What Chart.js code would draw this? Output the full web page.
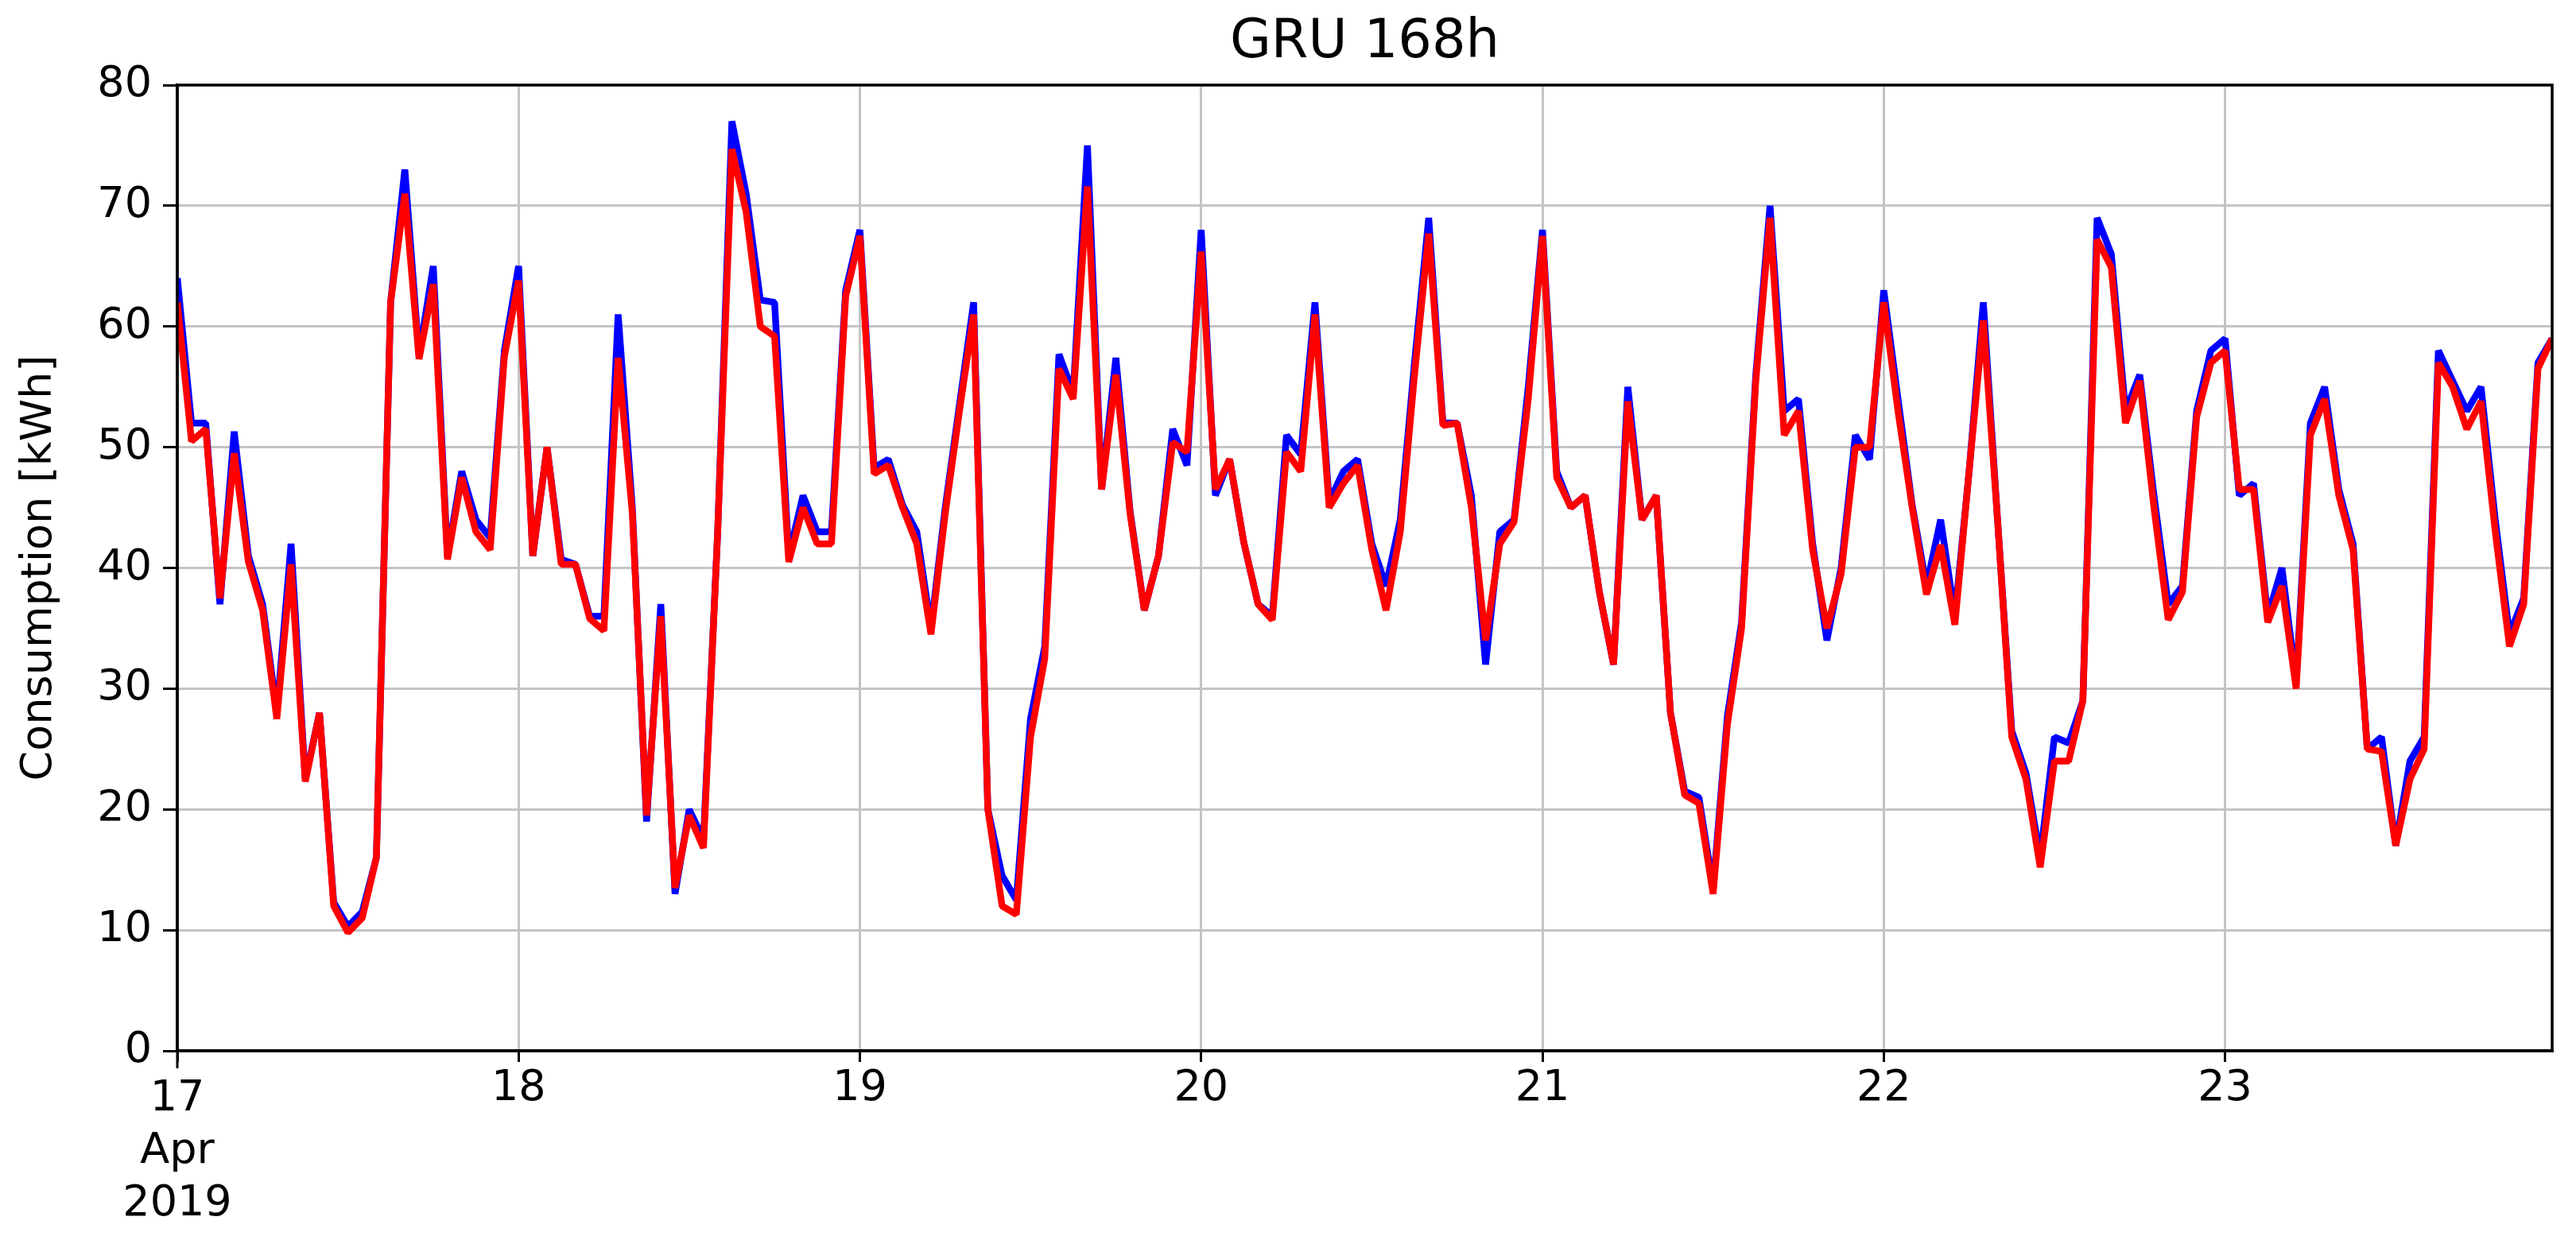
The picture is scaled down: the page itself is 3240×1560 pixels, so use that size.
<!DOCTYPE html>
<html>
<head>
<meta charset="utf-8">
<title>GRU 168h</title>
<script src="https://cdn.jsdelivr.net/npm/chart.js@4.4.1/dist/chart.umd.min.js"></script>
<style>
  html, body { margin: 0; padding: 0; background: #fff; }
  #chart { display: block; }
</style>
</head>
<body>
<canvas id="chart" width="3240" height="1560"></canvas>
<script>
// Hourly consumption [kWh], 17 Apr 2019 00:00 -> 23 Apr 2019 23:00 (one row per day)
const actual = [
  64, 52, 52, 37, 51.3, 41, 37, 28, 42, 22.5, 28, 12.3, 10.3, 11.5, 16, 62, 73, 57.6, 65, 41, 48, 44, 42.5, 58,
  65, 41, 50, 40.7, 40.3, 36, 36, 61, 45, 19, 37, 13, 20, 17.5, 43, 77, 71, 62.2, 62, 41, 46, 43, 43, 63,
  68, 48.3, 49, 45.2, 43, 35, 45, 53.5, 62, 20, 14.5, 12.5, 27.5, 33.5, 57.7, 54.5, 75, 46.5, 57.4, 44.7, 36.5, 41, 51.5, 48.5,
  68, 46, 49, 42.1, 37, 36, 51, 49.4, 62, 45.5, 48, 49, 42, 38.5, 44, 57, 69, 52, 52, 46, 32, 43, 44, 55,
  68, 48, 45, 46, 38, 32, 55, 44, 46, 28, 21.5, 21, 13.5, 27.7, 35.5, 56, 70, 53, 54, 42, 34, 40, 51, 49,
  63, 54, 45.2, 38.5, 44, 36, 48, 62, 44, 26.5, 23, 16, 26, 25.5, 29, 69, 66, 53, 56, 46, 37, 38.5, 53, 58,
  59, 46, 47, 36, 40, 30.5, 52, 55, 46.5, 42, 25, 26, 17, 24, 26, 58, 55.5, 53, 55, 44, 34.5, 37.5, 57, 59
];
const predicted = [
  62, 50.5, 51.5, 37.5, 49.5, 40.5, 36.5, 27.5, 40.3, 22.3, 28, 12, 9.8, 11, 16, 62, 71, 57.3, 63.5, 40.7, 47.5, 43, 41.5, 57.5,
  63.8, 41, 50, 40.3, 40.3, 35.8, 34.8, 57.4, 44.5, 19.5, 36, 13.5, 19.5, 16.8, 43, 74.7, 69.5, 60, 59.2, 40.5, 45, 42, 42, 62.5,
  67.5, 47.8, 48.5, 45, 42, 34.5, 44.5, 53, 61, 20, 12, 11.3, 26, 32.5, 56.5, 54, 71.6, 46.5, 56, 44.5, 36.5, 41, 50.4, 49.6,
  66.2, 46.5, 49, 42.1, 37, 35.7, 49.6, 48, 61, 45, 47, 48.5, 41.5, 36.5, 43, 56, 67.7, 51.8, 52, 45, 34, 42, 43.8, 54,
  67.5, 47.5, 45, 46, 38, 32, 53.8, 44, 46, 28, 21.2, 20.5, 13, 27, 35, 55.5, 69, 51, 53, 41.5, 35, 39.5, 50, 50,
  62, 53, 45, 37.8, 41.9, 35.3, 48, 60.5, 44, 26, 22.5, 15.2, 24, 24, 29, 67.2, 64.9, 52, 55.5, 45, 35.7, 38, 52.5, 57,
  58, 46.5, 46.5, 35.5, 38.5, 30, 51, 54, 46, 41.5, 25, 24.8, 17, 22.5, 25, 57, 55, 51.5, 53.8, 43, 33.5, 37, 56.5, 59
];

// x tick labels, one per day (the first one is the major tick with month and year)
const dayLabels = [['17', 'Apr', '2019'], '18', '19', '20', '21', '22', '23'];
const hoursPerDay = 24;

// y axis
const yMin = 0;
const yMax = 80;
const yStep = 10;

const FONT = "'DejaVu Sans', 'Liberation Sans', sans-serif";

const toPoints = (series) => series.map((v, i) => ({ x: i, y: v }));

// black box round the plot area (drawn over the lines, like the spines)
// plus the longer major tick under the first day
const frame = {
  id: 'frame',
  afterDatasetsDraw(chart) {
    const { ctx, chartArea: a, scales } = chart;
    ctx.save();
    ctx.strokeStyle = '#000';
    ctx.lineWidth = 3.5;
    ctx.strokeRect(a.left, a.top, a.right - a.left, a.bottom - a.top);
    const x0 = scales.x.getPixelForValue(0);
    ctx.lineWidth = 3;
    ctx.beginPath();
    ctx.moveTo(x0, a.bottom);
    ctx.lineTo(x0, a.bottom + 22);
    ctx.stroke();
    ctx.restore();
  }
};

new Chart(document.getElementById('chart'), {
  type: 'line',
  data: {
    datasets: [
      {
        label: 'actual',
        data: toPoints(actual),
        borderColor: '#0000ff',
        borderWidth: 8.5,
        borderJoinStyle: 'bevel',
        pointRadius: 0,
        tension: 0,
        order: 2
      },
      {
        label: 'GRU',
        data: toPoints(predicted),
        borderColor: '#ff0000',
        borderWidth: 8.5,
        borderJoinStyle: 'bevel',
        pointRadius: 0,
        tension: 0,
        order: 1
      }
    ]
  },
  options: {
    responsive: false,
    animation: false,
    devicePixelRatio: 1,
    layout: { padding: { left: 0, right: 30, top: 0, bottom: 0 } },
    plugins: {
      legend: { display: false },
      tooltip: { enabled: false },
      title: {
        display: true,
        text: 'GRU 168h',
        color: '#000',
        fullSize: false,
        font: { family: FONT, size: 67, weight: 'normal', lineHeight: 1.2 },
        padding: { top: 14, bottom: 12.6 }
      }
    },
    scales: {
      x: {
        type: 'linear',
        min: 0,
        max: actual.length - 1,
        afterBuildTicks: (scale) => {
          scale.ticks = dayLabels.map((label, i) => ({ value: i * hoursPerDay }));
        },
        afterFit: (scale) => { scale.height = 238; },
        ticks: {
          color: '#000',
          maxRotation: 0,
          autoSkip: false,
          padding: 14,
          // the major tick label sits lower than the minor ones
          font: (c) => ({ family: FONT, size: 54, lineHeight: c.index === 0 ? 1.22 : 0.74 }),
          callback: (value, index) => dayLabels[index]
        },
        grid: {
          color: '#c4c4c4',
          lineWidth: 3,
          tickColor: '#000',
          tickWidth: 3,
          tickLength: 14
        },
        border: { color: '#000', width: 3.5 }
      },
      y: {
        min: yMin,
        max: yMax,
        afterFit: (scale) => { scale.width = 223; },
        ticks: {
          stepSize: yStep,
          color: '#000',
          padding: 14,
          font: { family: FONT, size: 54 }
        },
        grid: {
          color: '#c4c4c4',
          lineWidth: 3,
          tickColor: '#000',
          tickWidth: 3,
          tickLength: 18
        },
        border: { color: '#000', width: 3.5 },
        title: {
          display: true,
          text: 'Consumption [kWh]',
          color: '#000',
          font: { family: FONT, size: 54, lineHeight: 1.2 },
          padding: { top: 18, bottom: 0 }
        }
      }
    }
  },
  plugins: [frame]
});
</script>
</body>
</html>
